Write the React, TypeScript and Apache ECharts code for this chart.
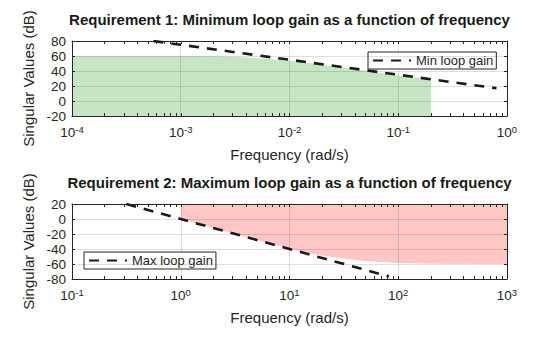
import React, { useEffect, useRef } from "react";
import * as echarts from "echarts";

// ---- Data ----
// Requirement 1 (top): minimum loop gain (dashed) and the green "allowed" region
const minGainFreq = [5.6e-4, 1e-3, 1e-2, 1e-1, 0.8];
const minGainDb = [80, 75, 55, 35, 17];
const minRegionFreq = [1e-4, 1e-3, 2e-3, 3e-3, 4.4e-3, 7e-3, 1e-2, 2e-2, 5e-2, 0.1, 0.2];
const minRegionDb = [60, 60, 59.6, 59, 57.8, 55.6, 53.8, 48.3, 40.5, 34, 29.3];

// Requirement 2 (bottom): maximum loop gain (dashed) and the red "forbidden" region
const maxGainFreq = [0.316, 1, 10, 82];
const maxGainDb = [20, 0, -40, -76.5];
const maxRegionFreq = [1, 2, 3, 5, 10, 15, 24, 48, 100, 200, 1000];
const maxRegionDb = [0, -12, -19, -28, -39.5, -45.5, -50.7, -56, -58.8, -59.7, -60];

// axis ranges (decades) and titles
const topDecades = [-4, 0];
const bottomDecades = [-1, 3];
const titles = [
  "Requirement 1: Minimum loop gain as a function of frequency",
  "Requirement 2: Maximum loop gain as a function of frequency",
];
const legendNames = ["Min loop gain", "Max loop gain"];
const xName = "Frequency (rad/s)";
const yName = "Singular Values (dB)";

const FONT = "'Liberation Sans', Arial, Helvetica, sans-serif";
const TXT = "#262626";
const AX = "#262626";
const GRIDC = "rgba(0,0,0,0.13)";

const zip = (a: number[], b: number[]) => a.map((v, i) => [v, b[i]]);

function minorTicks(d: number[]) {
  const out: number[] = [];
  for (let n = d[0]; n <= d[1]; n++) {
    for (let k = 1; k <= 9; k++) {
      const v = n + Math.log10(k);
      if (v <= d[1] + 1e-9) out.push(v);
    }
  }
  return out;
}

export default function App() {
  const ref = useRef<HTMLDivElement>(null);
  useEffect(() => {
    if (!ref.current) return;
    const chart = echarts.init(ref.current, null, { renderer: "svg" });
    const gridLeft = 72;
    const gridWidth = 435;
    const grids = [
      { left: gridLeft, top: 41, width: gridWidth, height: 75 },
      { left: gridLeft, top: 204, width: gridWidth, height: 75 },
    ];
    const richLabel = {
      formatter: (v: number) => `{b|10}{s|${Math.round(Math.log10(v))}}`,
      margin: 8,
      rich: {
        b: { fontSize: 13.5, lineHeight: 15, color: TXT, fontFamily: FONT, verticalAlign: "bottom" },
        s: { fontSize: 9.5, lineHeight: 10, color: TXT, fontFamily: FONT, verticalAlign: "top", padding: [0, 0, 7, 0] },
      },
    };
    const logAxis = (gi: number, d: number[]) => ({
      type: "log",
      logBase: 10,
      gridIndex: gi,
      min: Math.pow(10, d[0]),
      max: Math.pow(10, d[1]),
      position: "bottom",
      z: 3,
      axisLine: { show: false, onZero: false },
      axisTick: { show: false },
      splitLine: { show: true, lineStyle: { color: GRIDC, width: 1 } },
      axisLabel: richLabel,
      name: xName,
      nameLocation: "middle",
      nameGap: 31,
      nameTextStyle: { fontSize: 15, color: TXT, fontFamily: FONT },
    });
    const tickAxis = (gi: number, d: number[], pos: string) => ({
      type: "value",
      gridIndex: gi,
      min: d[0],
      max: d[1],
      position: pos,
      z: 4,
      axisLine: { show: true, onZero: false, lineStyle: { color: AX, width: 1 } },
      axisTick: { show: true, inside: true, length: 3, customValues: minorTicks(d), lineStyle: { color: AX } },
      axisLabel: { show: false },
      splitLine: { show: false },
    });
    const yAx = (gi: number, min: number, max: number, left: boolean) => ({
      type: "value",
      gridIndex: gi,
      min,
      max,
      interval: 20,
      position: left ? "left" : "right",
      z: 4,
      axisLine: { show: true, onZero: false, lineStyle: { color: AX, width: 1 } },
      axisTick: { show: true, inside: true, length: 3, lineStyle: { color: AX } },
      axisLabel: left ? { show: true, fontSize: 13.5, color: TXT, fontFamily: FONT, margin: 6 } : { show: false },
      splitLine: left ? { show: true, lineStyle: { color: GRIDC, width: 1 } } : { show: false },
      name: left ? yName : "",
      nameLocation: "middle",
      nameGap: 29,
      nameTextStyle: { fontSize: 15, color: TXT, fontFamily: FONT },
    });
    const dashed = { type: [10, 8], width: 2.6, color: "#1a1a1a" };
    const legendBase = {
      itemWidth: 38,
      itemHeight: 13,
      padding: [2, 3, 2, 4],
      borderColor: AX,
      borderWidth: 1,
      borderRadius: 0,
      backgroundColor: "#fff",
      itemStyle: { opacity: 0 },
      textStyle: { fontSize: 13, color: TXT, fontFamily: FONT },
    };
    const option: any = {
      animation: false,
      textStyle: { fontFamily: FONT },
      title: titles.map((t, i) => ({
        text: t,
        left: gridLeft + gridWidth / 2,
        textAlign: "center",
        top: i === 0 ? 12 : 175,
        padding: 0,
        textStyle: { fontSize: 15, fontWeight: "bold", color: "#1a1a1a", fontFamily: FONT },
      })),
      grid: grids,
      xAxis: [
        logAxis(0, topDecades),
        tickAxis(0, topDecades, "bottom"),
        tickAxis(0, topDecades, "top"),
        logAxis(1, bottomDecades),
        tickAxis(1, bottomDecades, "bottom"),
        tickAxis(1, bottomDecades, "top"),
      ],
      yAxis: [yAx(0, -20, 80, true), yAx(0, -20, 80, false), yAx(1, -80, 20, true), yAx(1, -80, 20, false)],
      legend: [
        { ...legendBase, data: [legendNames[0]], left: 368, top: 52 },
        { ...legendBase, data: [legendNames[1]], left: 84, top: 252 },
      ],
      series: [
        {
          type: "line",
          xAxisIndex: 0,
          yAxisIndex: 0,
          data: zip(minRegionFreq, minRegionDb),
          symbol: "none",
          silent: true,
          z: 1,
          lineStyle: { width: 0, color: "#c6e5c3" },
          areaStyle: { color: "#c6e5c3", opacity: 1, origin: "start" },
        },
        {
          name: legendNames[0],
          type: "line",
          xAxisIndex: 0,
          yAxisIndex: 0,
          data: zip(minGainFreq, minGainDb),
          symbol: "none",
          z: 5,
          itemStyle: { color: "#1a1a1a" },
          lineStyle: dashed,
        },
        {
          type: "line",
          xAxisIndex: 3,
          yAxisIndex: 2,
          data: zip(maxRegionFreq, maxRegionDb),
          symbol: "none",
          silent: true,
          z: 1,
          lineStyle: { width: 0, color: "#ffc6c6" },
          areaStyle: { color: "#ffc6c6", opacity: 1, origin: "end" },
        },
        {
          name: legendNames[1],
          type: "line",
          xAxisIndex: 3,
          yAxisIndex: 2,
          data: zip(maxGainFreq, maxGainDb),
          symbol: "none",
          z: 5,
          itemStyle: { color: "#1a1a1a" },
          lineStyle: dashed,
        },
      ],
    };
    chart.setOption(option);
    return () => chart.dispose();
  }, []);
  return (
    <div
      ref={ref}
      style={{ position: "fixed", left: 0, top: 0, width: 560, height: 337, background: "#fff" }}
    />
  );
}
